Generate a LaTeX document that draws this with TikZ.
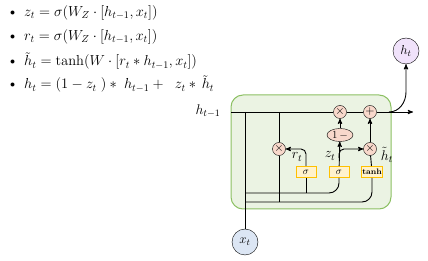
\RequirePackage{fix-cm}
\documentclass[tikz,border=0pt]{standalone}
\usepackage{amsmath}
\usepackage{amssymb}
\usetikzlibrary{arrows}
\usetikzlibrary{shapes.geometric}
\usetikzlibrary{positioning}

\definecolor{cellfill}{HTML}{EBF3E3}
\definecolor{celldraw}{HTML}{8CC063}
\definecolor{gatefill}{HTML}{F8D8CB}
\definecolor{actfill}{HTML}{FFF2CC}
\definecolor{actdraw}{HTML}{FFC000}
\definecolor{xfill}{HTML}{DCE6F4}
\definecolor{hfill}{HTML}{F0E2FA}

\tikzset{
  op/.style={circle, draw, fill=gatefill, inner sep=0pt, minimum size=13pt, font=\fontsize{12}{13}\selectfont},
  act/.style={rectangle, draw=actdraw, fill=actfill, line width=1pt, inner sep=1pt, minimum width=20pt, minimum height=11pt},
  io/.style={circle, draw, inner sep=0pt, minimum size=26pt, font=\fontsize{13}{14}\selectfont},
  wire/.style={line width=0.9pt},
  lbl/.style={inner sep=0pt, font=\fontsize{14}{15}\selectfont}
}

\begin{document}
\begin{tikzpicture}[x=1pt, y=-1pt, >=stealth']
  \useasboundingbox (0,0) rectangle (428,261);

  % equations
  \begin{scope}[every node/.style={anchor=west, inner sep=0pt, font=\fontsize{14.5}{16}\selectfont}]
    \node (eqz) at (7,13) {\textbullet\hspace{6pt}$z_t = \sigma(W_Z \cdot [h_{t-1}, x_t])$};
    \node (eqr) at (7,37) {\textbullet\hspace{6pt}$r_t = \sigma(W_Z \cdot [h_{t-1}, x_t])$};
    \node (eqh) at (7,61) {\textbullet\hspace{6pt}$\tilde{h}_t = \tanh(W \cdot [r_t * h_{t-1}, x_t])$};
    \node (eqo) at (7,84) {\textbullet\hspace{6pt}$h_t = (1 - z_t\;) * \; h_{t-1} + \;\; z_t * \,\tilde{h}_t$};
  \end{scope}

  % cell
  \draw[draw=celldraw, fill=cellfill, line width=1pt, rounded corners=12pt] (231,95) rectangle (391,209);

  \node[lbl] (hin) at (208,111) {$h_{t-1}$};
  \coordinate (hstart) at (231,112);
  \coordinate (hout) at (413,112);

  \node[op] (mz) at (340,112) {$\times$};
  \node[op] (add) at (370,112) {$+$};
  \node[op] (mr) at (279,149) {$\times$};
  \node[op] (mh) at (370,149) {$\times$};
  \node[ellipse, draw, fill=gatefill, inner sep=0pt, minimum width=26pt, minimum height=13pt, font=\fontsize{11}{12}\selectfont] (inv) at (340,135) {1\,$-$};

  \node[act] (sr) at (306,172) {$\sigma$};
  \node[act] (sz) at (339,172) {$\sigma$};
  \node[act, font=\fontsize{8}{9}\selectfont\bfseries] (th) at (372,172) {tanh};

  \node[io, fill=xfill] (xt) at (245,242) {$x_t$};
  \node[io, fill=hfill] (ht) at (406,51) {$h_t$};

  \node[lbl] (rlbl) at (297,157) {$r_t$};
  \node[lbl] (zlbl) at (330,156) {$z_t$};
  \node[lbl] (hlbl) at (387,155) {$\tilde{h}_t$};

  % wires
  \draw[wire] (hstart) -- (mz);
  \draw[wire] (mz) -- (add);
  \draw[wire, ->] (add) -- (hout);
  \draw[wire, ->] (389,112) to[out=0, in=-90] (406,92) -- (ht);

  \draw[wire] (245,112) -- (xt);
  \draw[wire] (279,112) -- (mr) -- (279,202);
  \draw[wire, rounded corners=10pt] (245,193) -| (sz);
  \draw[wire, rounded corners=10pt] (245,202) -| (th);
  \draw[wire] (306,193) -- (sr);

  \draw[wire, ->, rounded corners=5pt] (sr) |- (mr);
  \draw[wire, ->] (sz) -- (inv);
  \draw[wire, ->, rounded corners=5pt] (339,158) |- (mh);
  \draw[wire, ->] (inv) -- (mz);
  \draw[wire] (th) -- (mh);
  \draw[wire, ->] (mh) -- (add);
\end{tikzpicture}
\end{document}
